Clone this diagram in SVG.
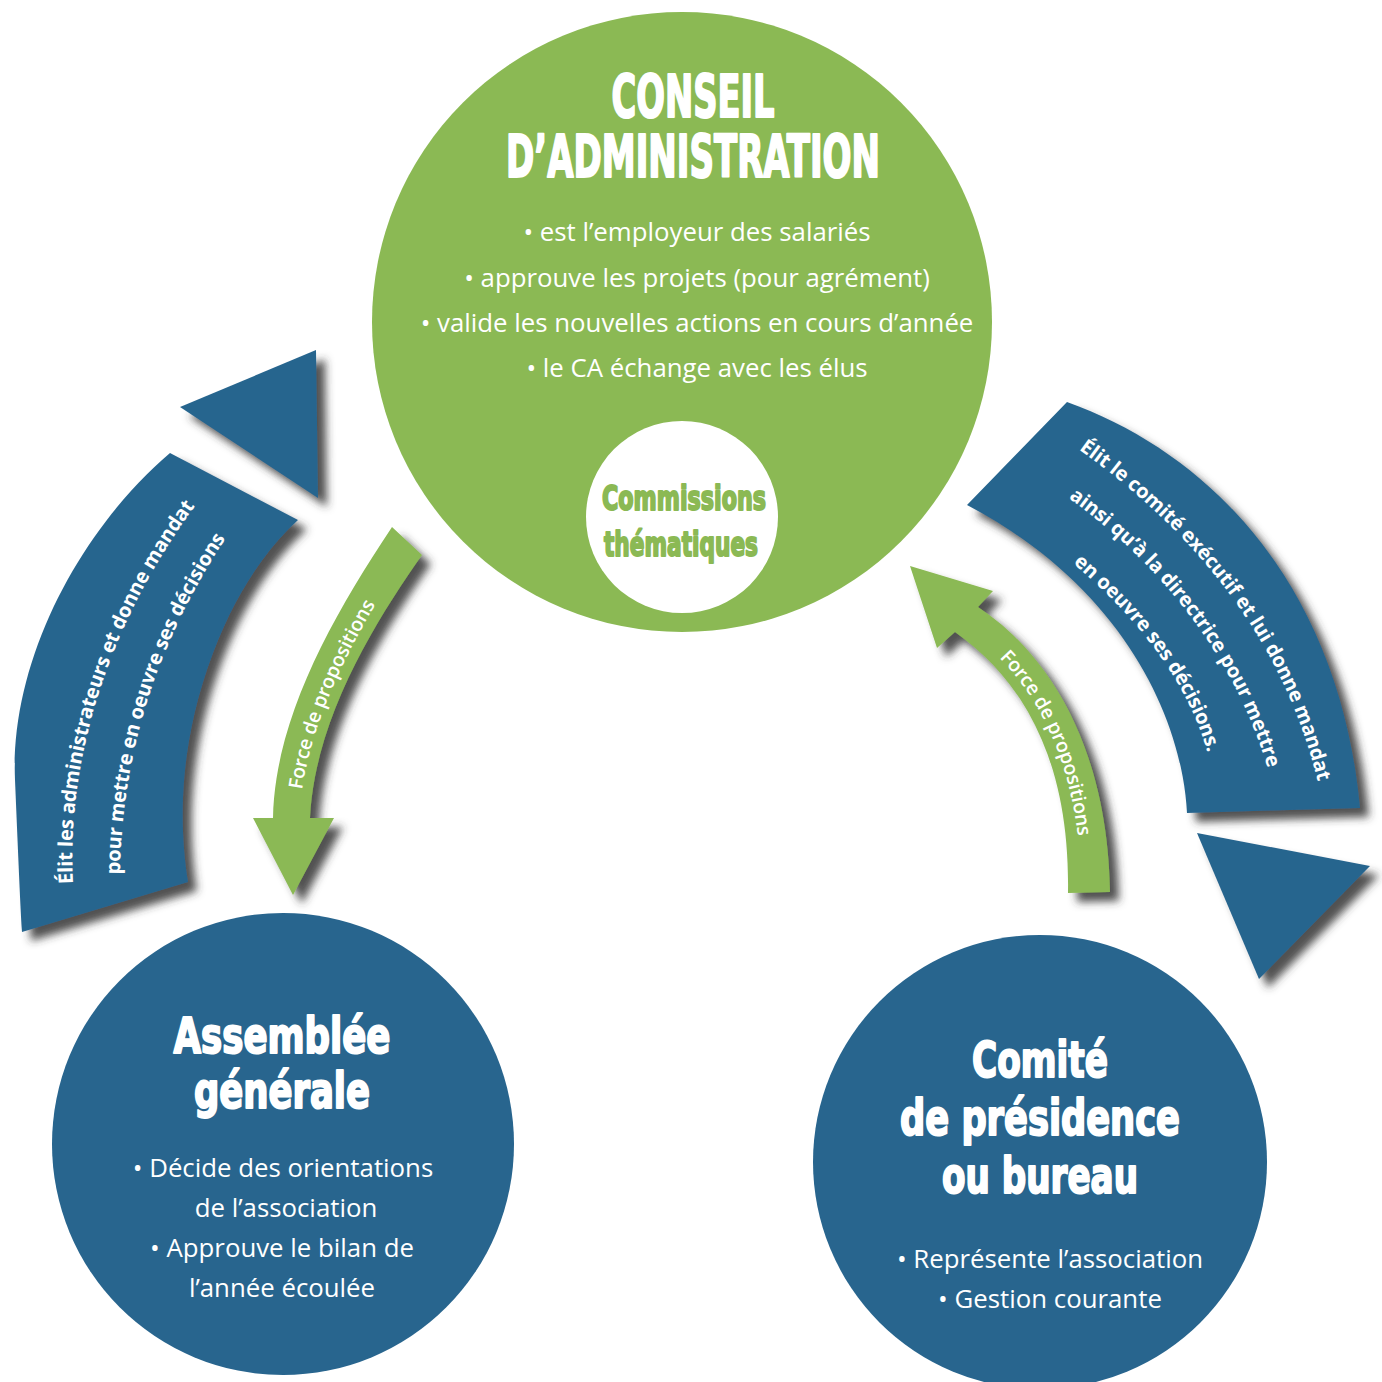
<svg xmlns="http://www.w3.org/2000/svg" width="1382" height="1382" viewBox="0 0 1382 1382">
<defs>
<filter id="sh" x="-20%" y="-20%" width="150%" height="150%">
<feDropShadow dx="9" dy="9" stdDeviation="4.5" flood-color="#333" flood-opacity="0.85"/>
</filter>
<path id="tpLG" d="M291,822 C294,725 352,620 407,541"/>
<path id="tpRG" d="M966,620 C1044,672 1089,765 1089,892"/>
<path id="tpL1" d="M66,898 C56,780 90,630 197,490"/>
<path id="tpL2" d="M112,885 C112,770 140,650 225,525"/>
<path id="tpR1" d="M1075,437 C1180,510 1290,620 1328,790"/>
<path id="tpR2" d="M1068,488 C1150,545 1240,640 1277,772"/>
<path id="tpR3" d="M1073,553 C1130,600 1195,670 1217,757"/>
</defs>
<style>
.blue{fill:#28658e}
.green{fill:#8bb954}
.hd{font-family:"Liberation Sans Narrow","DejaVu Sans Condensed","Roboto Condensed",sans-serif;font-weight:bold;fill:#fff;stroke:#fff;stroke-width:2;stroke-linejoin:round;text-anchor:middle}
.hdg{fill:#8bb954;stroke:#8bb954}
.body{font-family:"Open Sans","Noto Sans",sans-serif;fill:#fff;text-anchor:middle;font-size:25.8px}
.arr{font-family:"Open Sans","Noto Sans",sans-serif;font-weight:600;fill:#fff;text-anchor:middle;dominant-baseline:central}
.band{font-family:"Open Sans","Noto Sans",sans-serif;font-weight:700;fill:#fff;text-anchor:middle;dominant-baseline:central;font-size:20px}
</style>
<rect width="1382" height="1382" fill="#fff"/>

<g id="node-ca">
<circle cx="682" cy="322" r="310" class="green"/>
<text class="hd" x="693" y="117" font-size="58" textLength="163" lengthAdjust="spacingAndGlyphs">CONSEIL</text>
<text class="hd" x="693" y="177" font-size="58" textLength="374" lengthAdjust="spacingAndGlyphs">D’ADMINISTRATION</text>
<text class="body" x="697" y="241">• est l’employeur des salariés</text>
<text class="body" x="697" y="287">• approuve les projets (pour agrément)</text>
<text class="body" x="697" y="332">• valide les nouvelles actions en cours d’année</text>
<text class="body" x="697" y="377">• le CA échange avec les élus</text>
<g id="node-commissions">
<circle cx="682" cy="517" r="96" fill="#fff"/>
<text class="hd hdg" x="684" y="510" font-size="34" stroke-width="1.3" textLength="164" lengthAdjust="spacingAndGlyphs">Commissions</text>
<text class="hd hdg" x="681" y="556" font-size="34" stroke-width="1.3" textLength="154" lengthAdjust="spacingAndGlyphs">thématiques</text>
</g>
</g>

<g id="node-ag">
<circle cx="283" cy="1144" r="231" class="blue"/>
<text class="hd" x="282" y="1053" font-size="49" textLength="217" lengthAdjust="spacingAndGlyphs">Assemblée</text>
<text class="hd" x="282" y="1108" font-size="49" textLength="176" lengthAdjust="spacingAndGlyphs">générale</text>
<text class="body" x="283" y="1177">• Décide des orientations</text>
<text class="body" x="286" y="1217">de l’association</text>
<text class="body" x="282" y="1257">• Approuve le bilan de</text>
<text class="body" x="282" y="1297">l’année écoulée</text>
</g>

<g id="node-cp">
<circle cx="1040" cy="1162" r="227" class="blue"/>
<text class="hd" x="1040" y="1077" font-size="50" textLength="136" lengthAdjust="spacingAndGlyphs">Comité</text>
<text class="hd" x="1040" y="1135" font-size="50" textLength="280" lengthAdjust="spacingAndGlyphs">de présidence</text>
<text class="hd" x="1040" y="1193" font-size="50" textLength="196" lengthAdjust="spacingAndGlyphs">ou bureau</text>
<text class="body" x="1050" y="1268">• Représente l’association</text>
<text class="body" x="1050" y="1308">• Gestion courante</text>
</g>

<g id="connectors">
<g id="edge-ag-ca" filter="url(#sh)">
<path class="blue" d="M22,932 L188,882 C178,820 180,740 213,653 C235,595 265,550 298,520 L170,453 C80,530 10,660 15,780 C18,850 20,900 22,932 Z"/>
<path class="blue" d="M180,407 L316,350 L318,498 Z"/>
</g>
<text class="band"><textPath href="#tpL1" startOffset="50%">Élit les administrateurs et donne mandat</textPath></text>
<text class="band"><textPath href="#tpL2" startOffset="50%">pour mettre en oeuvre ses décisions</textPath></text>

<g id="edge-ca-cp" filter="url(#sh)">
<path class="blue" d="M1067,402 C1215,455 1340,590 1360,808 L1187,813 C1182,715 1120,585 967,505 Z"/>
<path class="blue" d="M1197,833 L1370,866 L1259,979 Z"/>
</g>
<text class="band"><textPath href="#tpR1" startOffset="50%">Élit le comité exécutif et lui donne mandat</textPath></text>
<text class="band"><textPath href="#tpR2" startOffset="50%">ainsi qu’à la directrice pour mettre</textPath></text>
<text class="band"><textPath href="#tpR3" startOffset="50%">en oeuvre ses décisions.</textPath></text>

<g id="edge-ca-ag">
<path class="green" filter="url(#sh)" d="M392,527 L422,555 C380,615 315,715 310,818 L334,818 L293,895 L253,818 L273,818 C275,720 330,620 392,527 Z"/>
<text class="arr" font-size="19.5"><textPath href="#tpLG" startOffset="44%">Force de propositions</textPath></text>
</g>

<g id="edge-cp-ca">
<path class="green" filter="url(#sh)" d="M910,566 L993,591 L978,607 C1058,660 1108,760 1110,892 L1068,893 C1070,770 1030,685 955,632 L937,648 Z"/>
<text class="arr" font-size="19.5"><textPath href="#tpRG" startOffset="49%">Force de propositions</textPath></text>
</g>
</g>
</svg>
